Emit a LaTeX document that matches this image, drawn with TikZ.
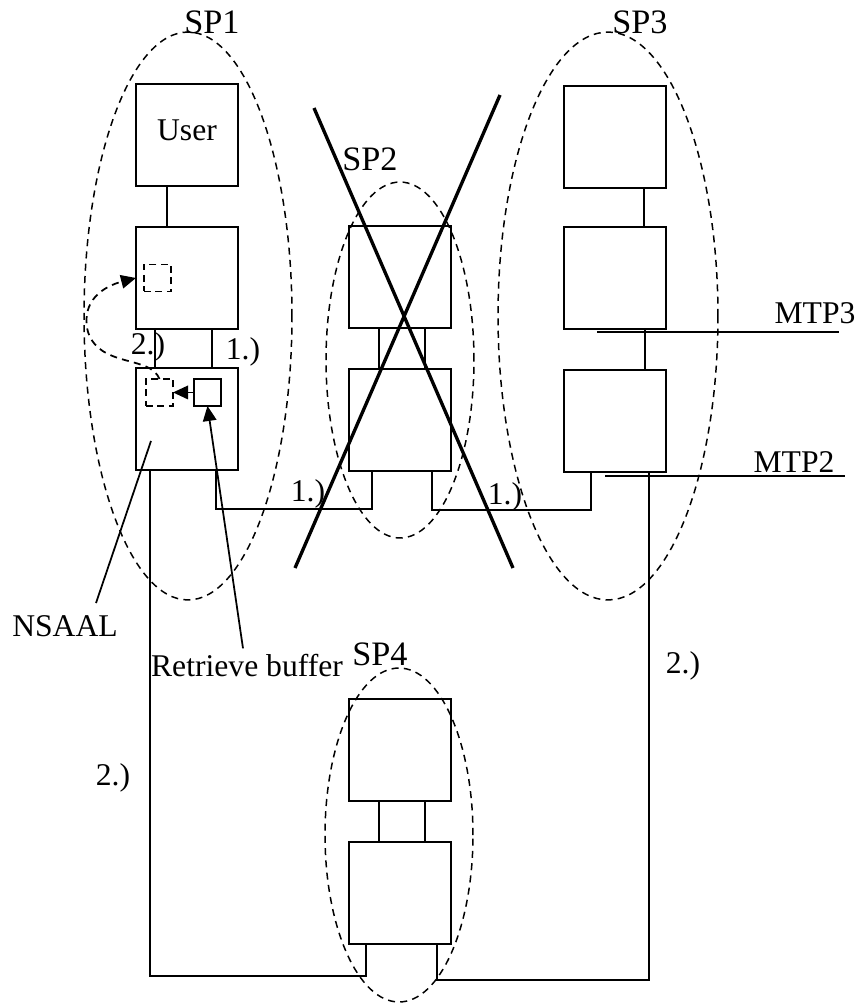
\documentclass[tikz,border=0pt]{standalone}
\usepackage{fontspec}
\setmainfont{Liberation Serif}
\usepackage{tikz}
\usetikzlibrary{arrows.meta,positioning,calc}
\tikzset{
  stackbox/.style={
    draw,
    line width=1pt,
    minimum width=2.04cm,
    minimum height=2.04cm,
    inner sep=0pt,
    outer sep=0pt,
    font=\fontsize{18}{20}\selectfont
  },
  slotbox/.style={
    draw,
    line width=1pt,
    minimum size=0.54cm,
    inner sep=0pt,
    outer sep=0pt
  },
  ghost/.style={slotbox, dash pattern=on 4pt off 2.5pt},
  spzone/.style={line width=0.85pt, dash pattern=on 4pt off 3pt},
  wire/.style={line width=1pt},
  tip/.style={
    -{Triangle[length=0.3cm,width=0.27cm]},
    line width=1pt
  },
  cross/.style={line width=1.9pt},
  lbl/.style={inner sep=0pt, font=\fontsize{18}{20}\selectfont},
  splbl/.style={inner sep=0pt, font=\fontsize{19.5}{22}\selectfont}
}

\begin{document}
\begin{tikzpicture}[x=0.02cm,y=-0.02cm]
\useasboundingbox (0,0) rectangle (859,1004);

% signalling points
\draw[spzone] (188,316) ellipse [x radius=2.08cm, y radius=5.68cm];
\draw[spzone] (400,360) ellipse [x radius=1.48cm, y radius=3.56cm];
\draw[spzone] (608,316) ellipse [x radius=2.2cm, y radius=5.68cm];
\draw[spzone] (399,835) ellipse [x radius=1.48cm, y radius=3.34cm];
\node[splbl] (sp1) at (212,22) {SP1};
\node[splbl] (sp2) at (370,159) {SP2};
\node[splbl] (sp3) at (640,22) {SP3};
\node[splbl] (sp4) at (380,654) {SP4};

% SP1 stack
\node[stackbox] (usr) at (187,135) {\raisebox{5pt}{User}};
\node[stackbox,below=0.82cm of usr.south] (n2) {};
\node[stackbox,below=0.78cm of n2.south] (n3) {};
\node[ghost,right=0.16cm of n2.west] (slotB) {};
\node[ghost,below right=0.22cm and 0.2cm of n3.north west] (slotA) {};
\node[slotbox,right=0.42cm of slotA] (retr) {};

% SP2 stack
\node[stackbox] (s2t) at (400,277) {};
\node[stackbox,below=0.82cm of s2t.south] (s2b) {};

% SP3 stack
\node[stackbox] (s3t) at (615,137) {};
\node[stackbox,below=0.78cm of s3t.south] (s3m) {};
\node[stackbox,below=0.82cm of s3m.south] (s3b) {};

% SP4 stack
\node[stackbox] (s4t) at (400,750) {};
\node[stackbox,below=0.82cm of s4t.south] (s4b) {};

% links inside the stacks
\draw[wire] ([xshift=-0.4cm]usr.south) -- ([xshift=-0.4cm]n2.north);
\draw[wire] ([xshift=-0.64cm]n2.south) -- ([xshift=-0.64cm]n3.north);
\draw[wire] ([xshift=0.5cm]n2.south) -- ([xshift=0.5cm]n3.north);
\draw[wire] ([xshift=-0.42cm]s2t.south) -- ([xshift=-0.42cm]s2b.north);
\draw[wire] ([xshift=0.5cm]s2t.south) -- ([xshift=0.5cm]s2b.north);
\draw[wire] ([xshift=0.58cm]s3t.south) -- ([xshift=0.58cm]s3m.north);
\draw[wire] ([xshift=0.6cm]s3m.south) -- ([xshift=0.6cm]s3b.north);
\draw[wire] ([xshift=-0.42cm]s4t.south) -- ([xshift=-0.42cm]s4b.north);
\draw[wire] ([xshift=0.5cm]s4t.south) -- ([xshift=0.5cm]s4b.north);

% signalling links
\draw[wire] ([xshift=0.58cm]n3.south) -- ++(0,-0.78cm) -| ([xshift=-0.56cm]s2b.south);
\draw[wire] ([xshift=0.64cm]s2b.south) -- ++(0,-0.78cm) -| ([xshift=-0.48cm]s3b.south);
\draw[wire] ([xshift=-0.74cm]n3.south) -- ++(0,-10.12cm) -| ([xshift=-0.68cm]s4b.south);
\draw[wire] ([xshift=0.74cm]s4b.south) -- ++(0,-0.72cm) -| ([xshift=0.68cm]s3b.south);

% SP2 is out of service
\coordinate (xa) at (314,108);
\coordinate (xb) at (513,568);
\coordinate (xc) at (500,95);
\coordinate (xd) at (295,568);
\draw[cross] (xa) -- (xb);
\draw[cross] (xc) -- (xd);

% buffer handling
\draw[tip] (retr.west) -- (slotA.east);
\draw[tip, dash pattern=on 4pt off 3pt] (slotA.north) .. controls (150,355) and (100,368) .. (88,332)
  .. controls (80,300) and (105,286) .. (n2.west);

% layer marks
\node[lbl] (mtp3) at (815,313) {MTP3};
\node[lbl] (mtp2) at (794,462) {MTP2};
\coordinate (m3l) at (597,332);
\coordinate (m3r) at (839,332);
\coordinate (m2l) at (605,476);
\coordinate (m2r) at (845,476);
\draw[wire] (m3l) -- (m3r);
\draw[wire] (m2l) -- (m2r);

% step labels
\node[lbl] (st1a) at (243,352) {1.)};
\node[lbl] (st1b) at (308,494) {1.)};
\node[lbl] (st1c) at (505,497) {1.)};
\node[lbl] (st2a) at (148,347) {2.)};
\node[lbl] (st2b) at (113,778) {2.)};
\node[lbl] (st2c) at (683,666) {2.)};

% callouts
\node[lbl] (nsaal) at (65,626) {NSAAL};
\node[lbl] (rblbl) at (247,666) {Retrieve buffer};
\draw[wire] ($(nsaal.north)+(31,-12)$) -- ($(n3.center)+(-36,22)$);
\draw[tip] ($(rblbl.north)+(-4,-6)$) -- (retr.south);
\end{tikzpicture}
\end{document}
